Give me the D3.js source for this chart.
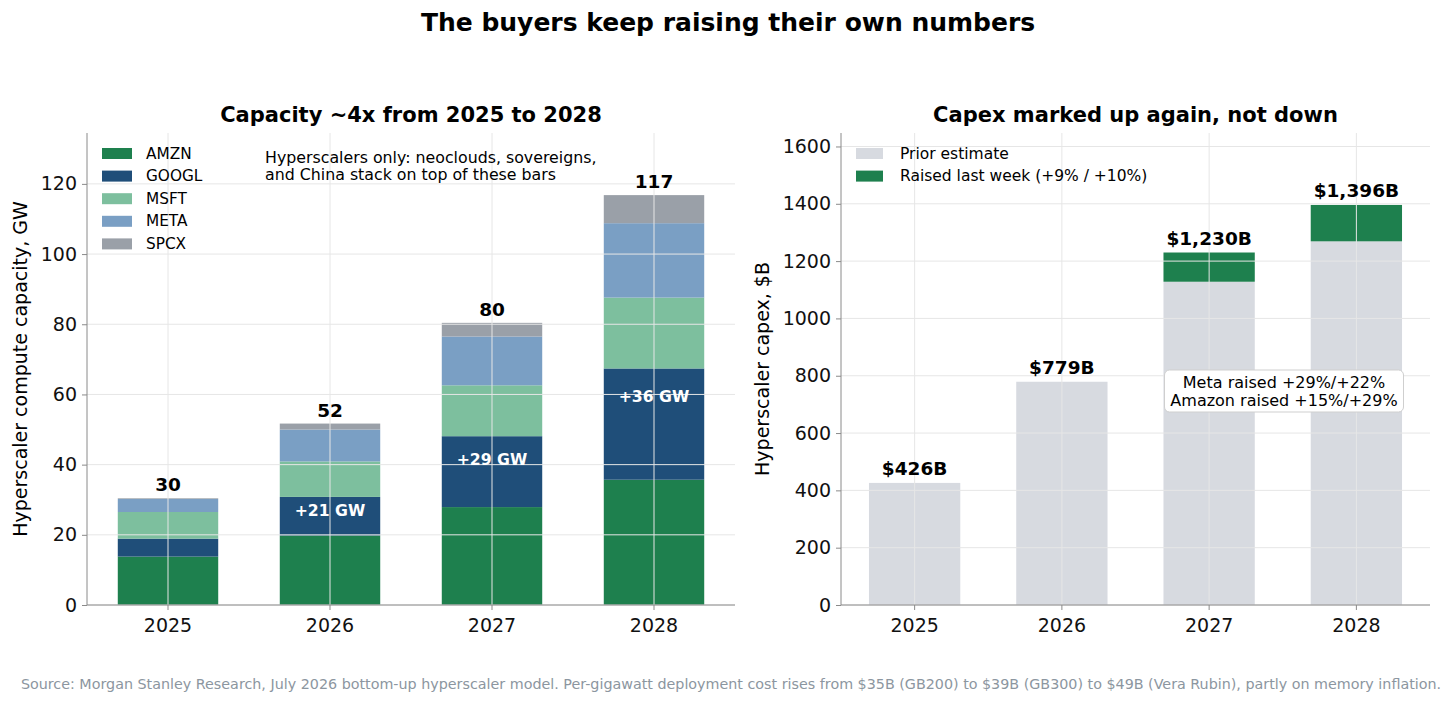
<!DOCTYPE html>
<html>

<head>
    <meta charset="utf-8">
    <style>
        body {
            margin: 0;
            background: white;
            font-family: 'DejaVu Sans', sans-serif;
        }

        svg {
            display: block;
        }

        .grid line {
            stroke: #e6e6e6;
            stroke-width: 1;
        }

        .axis path,
        .axis line {
            stroke: #8a8a8a;
        }

        .axis text {
            font-size: 19px;
            fill: #111;
            font-family: 'DejaVu Sans', sans-serif;
        }
    </style>
</head>

<body>
    <svg width="1456" height="703"></svg>
</body>

<script src="https://d3js.org/d3.v7.min.js"></script>

<script>

    // ---- data ----
    let years = ["2025", "2026", "2027", "2028"]
    let companies = ["AMZN", "GOOGL", "MSFT", "META", "SPCX"]
    let amzn = [13.8, 19.8, 27.9, 35.7]
    let googl = [5.1, 11.0, 20.2, 31.7]
    let msft = [7.6, 10.1, 14.5, 20.2]
    let meta = [3.7, 9.1, 13.9, 21.2]
    let spcx = [0.2, 1.7, 3.9, 8.0]
    let capTicks = [0, 20, 40, 60, 80, 100, 120]

    let priorCapex = [426, 779, 1128, 1269]
    let raisedCapex = [0, 0, 102, 127]
    let capexTicks = [0, 200, 400, 600, 800, 1000, 1200, 1400, 1600]
    let capexSeries = ["Prior estimate", "Raised last week (+9% / +10%)"]

    let colors = {
        AMZN: "#1e804e",
        GOOGL: "#1f4e79",
        MSFT: "#7dbf9e",
        META: "#7a9fc4",
        SPCX: "#9aa0a8"
    }
    let priorColor = "#d7dae0"
    let raisedColor = "#1e804e"

    let svg = d3.select("svg")

    // titles
    svg.append("text")
        .attr("x", 728).attr("y", 22)
        .attr("text-anchor", "middle")
        .attr("dominant-baseline", "central")
        .style("font-size", "25px").style("font-weight", "bold")
        .text("The buyers keep raising their own numbers")

    svg.append("text")
        .attr("x", 731).attr("y", 684)
        .attr("text-anchor", "middle")
        .attr("dominant-baseline", "central")
        .style("font-size", "14.3px").style("fill", "#8c96a0")
        .text("Source: Morgan Stanley Research, July 2026 bottom-up hyperscaler model. Per-gigawatt deployment cost rises from $35B (GB200) to $39B (GB300) to $49B (Vera Rubin), partly on memory inflation.")

    // ================= LEFT: stacked capacity =================
    let L = { x0: 87, x1: 735, y0: 133, y1: 605 }

    let table = years.map((yr, i) => ({
        year: yr, AMZN: amzn[i], GOOGL: googl[i], MSFT: msft[i], META: meta[i], SPCX: spcx[i]
    }))
    let totals = table.map(d => companies.reduce((s, k) => s + d[k], 0))

    let xL = d3.scaleBand().domain(years).range([L.x0, L.x1])
        .paddingInner(0.38).paddingOuter(0.19)
    let yL = d3.scaleLinear().domain([0, 134.5]).range([L.y1, L.y0])

    let left = svg.append("g")

    left.append("text")
        .attr("x", (L.x0 + L.x1) / 2).attr("y", 115)
        .attr("text-anchor", "middle").attr("dominant-baseline", "central")
        .style("font-size", "21px").style("font-weight", "bold")
        .text("Capacity ~4x from 2025 to 2028")

    let stacked = d3.stack().keys(companies)(table)

    left.append("g")
        .selectAll("g")
        .data(stacked)
        .join("g")
        .style("fill", d => colors[d.key])
        .selectAll("rect")
        .data(d => d)
        .join("rect")
        .attr("x", d => xL(d.data.year))
        .attr("width", xL.bandwidth())
        .attr("y", d => yL(d[1]))
        .attr("height", d => yL(d[0]) - yL(d[1]))

    // grid over the bars
    let gridL = left.append("g").attr("class", "grid")
    gridL.selectAll(".h").data(capTicks).join("line")
        .attr("x1", L.x0).attr("x2", L.x1)
        .attr("y1", d => yL(d)).attr("y2", d => yL(d))
    gridL.selectAll(".v").data(years).join("line")
        .attr("x1", d => xL(d) + xL.bandwidth() / 2).attr("x2", d => xL(d) + xL.bandwidth() / 2)
        .attr("y1", L.y0).attr("y2", L.y1)

    // axes
    left.append("g").attr("class", "axis")
        .attr("transform", `translate(0,${L.y1})`)
        .call(d3.axisBottom(xL).tickSize(5).tickPadding(9).tickSizeOuter(0))
    left.append("g").attr("class", "axis")
        .attr("transform", `translate(${L.x0},0)`)
        .call(d3.axisLeft(yL).tickValues(capTicks).tickSize(5).tickPadding(5).tickSizeOuter(0))
    left.selectAll(".axis .domain").attr("d", null)
    left.append("line").attr("x1", L.x0).attr("x2", L.x0).attr("y1", L.y0).attr("y2", L.y1)
        .style("stroke", "#8a8a8a")
    left.append("line").attr("x1", L.x0).attr("x2", L.x1).attr("y1", L.y1).attr("y2", L.y1)
        .style("stroke", "#8a8a8a")

    left.append("text")
        .attr("transform", `translate(20,${(L.y0 + L.y1) / 2}) rotate(-90)`)
        .attr("text-anchor", "middle").attr("dominant-baseline", "central")
        .style("font-size", "19px")
        .text("Hyperscaler compute capacity, GW")

    // totals
    left.selectAll(".total").data(years).join("text")
        .attr("x", d => xL(d) + xL.bandwidth() / 2)
        .attr("y", (d, i) => yL(totals[i]) - 7)
        .attr("text-anchor", "middle")
        .style("font-size", "18.5px").style("font-weight", "bold")
        .text((d, i) => Math.round(totals[i]))

    // year-over-year additions
    left.selectAll(".delta").data(years.slice(1)).join("text")
        .attr("x", d => xL(d) + xL.bandwidth() / 2)
        .attr("y", (d, i) => yL(totals[i + 1] / 2) - 4)
        .attr("text-anchor", "middle").attr("dominant-baseline", "central")
        .style("font-size", "15.7px").style("font-weight", "bold").style("fill", "white")
        .text((d, i) => "+" + Math.round(totals[i + 1] - totals[i]) + " GW")

    // legend
    let legL = left.append("g").selectAll("g").data(companies).join("g")
        .attr("transform", (d, i) => `translate(102,${153.5 + i * 22.6})`)
    legL.append("rect").attr("x", 0).attr("y", -5.5).attr("width", 30).attr("height", 11)
        .style("fill", d => colors[d])
    legL.append("text").attr("x", 44).attr("y", 0).attr("dominant-baseline", "central")
        .style("font-size", "15.3px").text(d => d)

    let note = ["Hyperscalers only: neoclouds, sovereigns,", "and China stack on top of these bars"]
    left.selectAll(".note").data(note).join("text")
        .attr("x", 265).attr("y", (d, i) => 157 + i * 17)
        .attr("dominant-baseline", "central")
        .style("font-size", "15.8px")
        .text(d => d)

    // ================= RIGHT: capex =================
    let R = { x0: 841, x1: 1430, y0: 133, y1: 605 }

    let xR = d3.scaleBand().domain(years).range([R.x0, R.x1])
        .paddingInner(0.38).paddingOuter(0.19)
    let yR = d3.scaleLinear().domain([0, 1647]).range([R.y1, R.y0])
    let capexTotals = priorCapex.map((v, i) => v + raisedCapex[i])

    let right = svg.append("g")

    right.append("text")
        .attr("x", (R.x0 + R.x1) / 2).attr("y", 115)
        .attr("text-anchor", "middle").attr("dominant-baseline", "central")
        .style("font-size", "21px").style("font-weight", "bold")
        .text("Capex marked up again, not down")

    right.append("g").selectAll("rect").data(years).join("rect")
        .attr("x", d => xR(d)).attr("width", xR.bandwidth())
        .attr("y", (d, i) => yR(priorCapex[i]))
        .attr("height", (d, i) => yR(0) - yR(priorCapex[i]))
        .style("fill", priorColor)

    right.append("g").selectAll("rect").data(years.filter((d, i) => raisedCapex[i] > 0)).join("rect")
        .attr("x", d => xR(d)).attr("width", xR.bandwidth())
        .attr("y", d => yR(capexTotals[years.indexOf(d)]))
        .attr("height", d => yR(priorCapex[years.indexOf(d)]) - yR(capexTotals[years.indexOf(d)]))
        .style("fill", raisedColor)

    let gridR = right.append("g").attr("class", "grid")
    gridR.selectAll(".h").data(capexTicks).join("line")
        .attr("x1", R.x0).attr("x2", R.x1)
        .attr("y1", d => yR(d)).attr("y2", d => yR(d))
    gridR.selectAll(".v").data(years).join("line")
        .attr("x1", d => xR(d) + xR.bandwidth() / 2).attr("x2", d => xR(d) + xR.bandwidth() / 2)
        .attr("y1", R.y0).attr("y2", R.y1)

    right.append("g").attr("class", "axis")
        .attr("transform", `translate(0,${R.y1})`)
        .call(d3.axisBottom(xR).tickSize(5).tickPadding(9).tickSizeOuter(0))
    right.append("g").attr("class", "axis")
        .attr("transform", `translate(${R.x0},0)`)
        .call(d3.axisLeft(yR).tickValues(capexTicks).tickFormat(d3.format("d")).tickSize(5).tickPadding(5).tickSizeOuter(0))
    right.selectAll(".axis .domain").attr("d", null)
    right.append("line").attr("x1", R.x0).attr("x2", R.x0).attr("y1", R.y0).attr("y2", R.y1)
        .style("stroke", "#8a8a8a")
    right.append("line").attr("x1", R.x0).attr("x2", R.x1).attr("y1", R.y1).attr("y2", R.y1)
        .style("stroke", "#8a8a8a")

    right.append("text")
        .attr("transform", `translate(762,${(R.y0 + R.y1) / 2}) rotate(-90)`)
        .attr("text-anchor", "middle").attr("dominant-baseline", "central")
        .style("font-size", "19px")
        .text("Hyperscaler capex, $B")

    right.selectAll(".total").data(years).join("text")
        .attr("x", d => xR(d) + xR.bandwidth() / 2)
        .attr("y", (d, i) => yR(capexTotals[i]) - 8)
        .attr("text-anchor", "middle")
        .style("font-size", "18.5px").style("font-weight", "bold")
        .text((d, i) => "$" + d3.format(",")(capexTotals[i]) + "B")

    let legR = right.append("g").selectAll("g").data(capexSeries).join("g")
        .attr("transform", (d, i) => `translate(856,${153.5 + i * 22.6})`)
    legR.append("rect").attr("x", 0).attr("y", -5.5).attr("width", 27).attr("height", 11)
        .style("fill", (d, i) => i == 0 ? priorColor : raisedColor)
    legR.append("text").attr("x", 44).attr("y", 0).attr("dominant-baseline", "central")
        .style("font-size", "15.5px").text(d => d)

    // annotation box
    let boxLines = ["Meta raised +29%/+22%", "Amazon raised +15%/+29%"]
    let box = right.append("g").attr("transform", "translate(1284,391)")
    box.append("rect")
        .attr("x", -119.5).attr("y", -21).attr("width", 239).attr("height", 42)
        .attr("rx", 5)
        .style("fill", "white").style("stroke", "#cfcfcf")
    box.selectAll("text").data(boxLines).join("text")
        .attr("x", 0).attr("y", (d, i) => -8.5 + i * 18)
        .attr("text-anchor", "middle").attr("dominant-baseline", "central")
        .style("font-size", "16px")
        .text(d => d)

</script>
</html>
